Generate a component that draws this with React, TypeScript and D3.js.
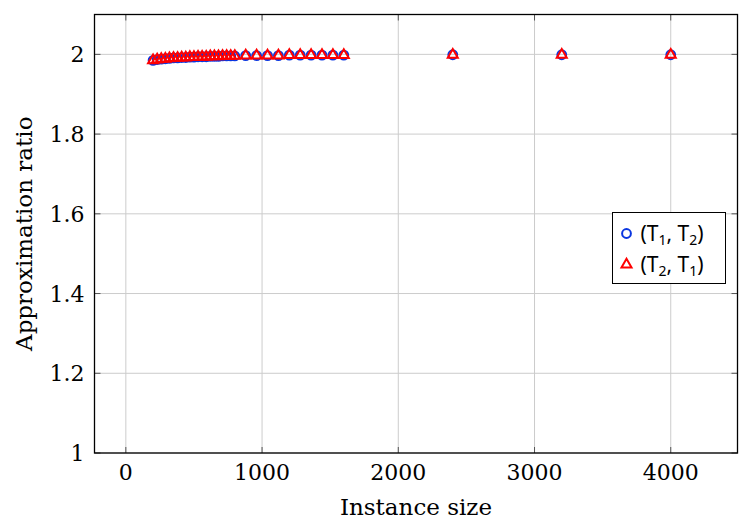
import { useEffect, useRef } from "react";
import * as d3 from "d3";

// instance sizes (x) and approximation ratios
const sizes = [
  200, 230, 260, 290, 320, 350, 380, 410, 440, 470, 500, 530, 560, 590, 620, 650, 680, 710, 740, 770, 800,
  880, 960, 1040, 1120, 1200, 1280, 1360, 1440, 1520, 1600, 2400, 3200, 4000,
];
const ratioT1T2 = [
  1.985, 1.987, 1.988, 1.989, 1.99, 1.991, 1.991, 1.992, 1.992, 1.993, 1.993, 1.994, 1.994, 1.994, 1.995,
  1.995, 1.995, 1.996, 1.996, 1.996, 1.996, 1.997, 1.997, 1.997, 1.997, 1.998, 1.998, 1.998, 1.998, 1.998,
  1.998, 1.999, 1.999, 1.999,
];
const ratioT2T1 = [
  1.985, 1.987, 1.988, 1.989, 1.99, 1.991, 1.991, 1.992, 1.992, 1.993, 1.993, 1.994, 1.994, 1.994, 1.995,
  1.995, 1.995, 1.996, 1.996, 1.996, 1.996, 1.997, 1.997, 1.997, 1.997, 1.998, 1.998, 1.998, 1.998, 1.998,
  1.998, 1.999, 1.999, 1.999,
];
const xTicks = [0, 1000, 2000, 3000, 4000];
const yTicks = [1, 1.2, 1.4, 1.6, 1.8, 2];

const BLUE = "#0a36e0";
const RED = "#ff0000";
const SERIF = "'DejaVu Serif', serif";

function trianglePath(cx: number, cy: number, r: number) {
  const p = d3.path();
  const s = Math.sin(Math.PI / 3) * r;
  p.moveTo(cx, cy - r);
  p.lineTo(cx + s, cy + r / 2);
  p.lineTo(cx - s, cy + r / 2);
  p.closePath();
  return p.toString();
}

function App() {
  const svgRef = useRef<SVGSVGElement>(null);

  useEffect(() => {
    const w = 739;
    const h = 521;
    const m = { left: 94.5, right: 1.5, top: 14.5, bottom: 68 };
    const svg = d3.select(svgRef.current).attr("width", w).attr("height", h);
    svg.selectAll("*").remove();

    const x = d3.scaleLinear().domain([-230, 4490]).range([m.left, w - m.right]);
    const y = d3.scaleLinear().domain([1, 2.1]).range([h - m.bottom, m.top]);

    const g = svg.append("g");

    // grid
    g.selectAll(".gx")
      .data(xTicks)
      .join("line")
      .attr("x1", (d) => x(d)).attr("x2", (d) => x(d))
      .attr("y1", y(1)).attr("y2", y(2.1))
      .attr("stroke", "#cccccc").attr("stroke-width", 1);
    g.selectAll(".gy")
      .data(yTicks)
      .join("line")
      .attr("y1", (d) => y(d)).attr("y2", (d) => y(d))
      .attr("x1", x(-230)).attr("x2", x(4490))
      .attr("stroke", "#cccccc").attr("stroke-width", 1);

    // inner tick marks on all four sides
    const tl = 6;
    xTicks.forEach((t) => {
      g.append("line").attr("x1", x(t)).attr("x2", x(t)).attr("y1", y(1)).attr("y2", y(1) - tl).attr("stroke", "#555");
      g.append("line").attr("x1", x(t)).attr("x2", x(t)).attr("y1", y(2.1)).attr("y2", y(2.1) + tl).attr("stroke", "#555");
    });
    yTicks.forEach((t) => {
      g.append("line").attr("y1", y(t)).attr("y2", y(t)).attr("x1", x(-230)).attr("x2", x(-230) + tl).attr("stroke", "#555");
      g.append("line").attr("y1", y(t)).attr("y2", y(t)).attr("x1", x(4490)).attr("x2", x(4490) - tl).attr("stroke", "#555");
    });

    // frame
    g.append("rect")
      .attr("x", x(-230)).attr("y", y(2.1))
      .attr("width", x(4490) - x(-230)).attr("height", y(1) - y(2.1))
      .attr("fill", "none").attr("stroke", "#000").attr("stroke-width", 1.3);

    // tick labels
    g.selectAll(".xl")
      .data(xTicks)
      .join("text")
      .attr("x", (d) => x(d)).attr("y", y(1) + 27)
      .attr("text-anchor", "middle")
      .attr("font-family", SERIF).attr("font-size", 22)
      .text((d) => String(d));
    g.selectAll(".yl")
      .data(yTicks)
      .join("text")
      .attr("x", x(-230) - 10).attr("y", (d) => y(d) + 8)
      .attr("text-anchor", "end")
      .attr("font-family", SERIF).attr("font-size", 22)
      .text((d) => d3.format("~g")(d));

    // axis titles
    g.append("text")
      .attr("x", (x(-230) + x(4490)) / 2).attr("y", 515)
      .attr("text-anchor", "middle")
      .attr("font-family", SERIF).attr("font-size", 23)
      .text("Instance size");
    g.append("text")
      .attr("transform", `translate(32,${(y(1) + y(2.1)) / 2}) rotate(-90)`)
      .attr("text-anchor", "middle")
      .attr("font-family", SERIF).attr("font-size", 23)
      .text("Approximation ratio");

    // series
    g.selectAll(".c")
      .data(sizes)
      .join("circle")
      .attr("cx", (d) => x(d))
      .attr("cy", (d, i) => y(ratioT1T2[i]))
      .attr("r", 4.4)
      .attr("fill", "none").attr("stroke", BLUE).attr("stroke-width", 2);
    g.selectAll(".t")
      .data(sizes)
      .join("path")
      .attr("d", (d, i) => trianglePath(x(d), y(ratioT2T1[i]), 5.8))
      .attr("fill", "none").attr("stroke", RED).attr("stroke-width", 2);

    // legend
    const lg = g.append("g").attr("transform", "translate(612.5,212.5)");
    lg.append("rect").attr("width", 113).attr("height", 71)
      .attr("fill", "#fff").attr("stroke", "#000").attr("stroke-width", 1);
    lg.append("circle").attr("cx", 14).attr("cy", 21).attr("r", 4.4)
      .attr("fill", "none").attr("stroke", BLUE).attr("stroke-width", 2);
    lg.append("path").attr("d", trianglePath(14, 52, 5.8))
      .attr("fill", "none").attr("stroke", RED).attr("stroke-width", 2);
    const labels: [string, string][] = [["1", "2"], ["2", "1"]];
    labels.forEach(([a, b], i) => {
      const t = lg.append("text")
        .attr("x", 28).attr("y", 28 + i * 31)
        .attr("font-family", "'Noto Sans', sans-serif").attr("font-size", 21);
      t.append("tspan").text("(T");
      t.append("tspan").attr("font-size", 14).attr("dy", 4).text(a);
      t.append("tspan").attr("dy", -4).text(", T");
      t.append("tspan").attr("font-size", 14).attr("dy", 4).text(b);
      t.append("tspan").attr("dy", -4).text(")");
    });
  }, []);

  return (
    <svg
      ref={svgRef}
      style={{ position: "absolute", left: 0, top: 0, display: "block", background: "#fff" }}
    ></svg>
  );
}

export default App;
